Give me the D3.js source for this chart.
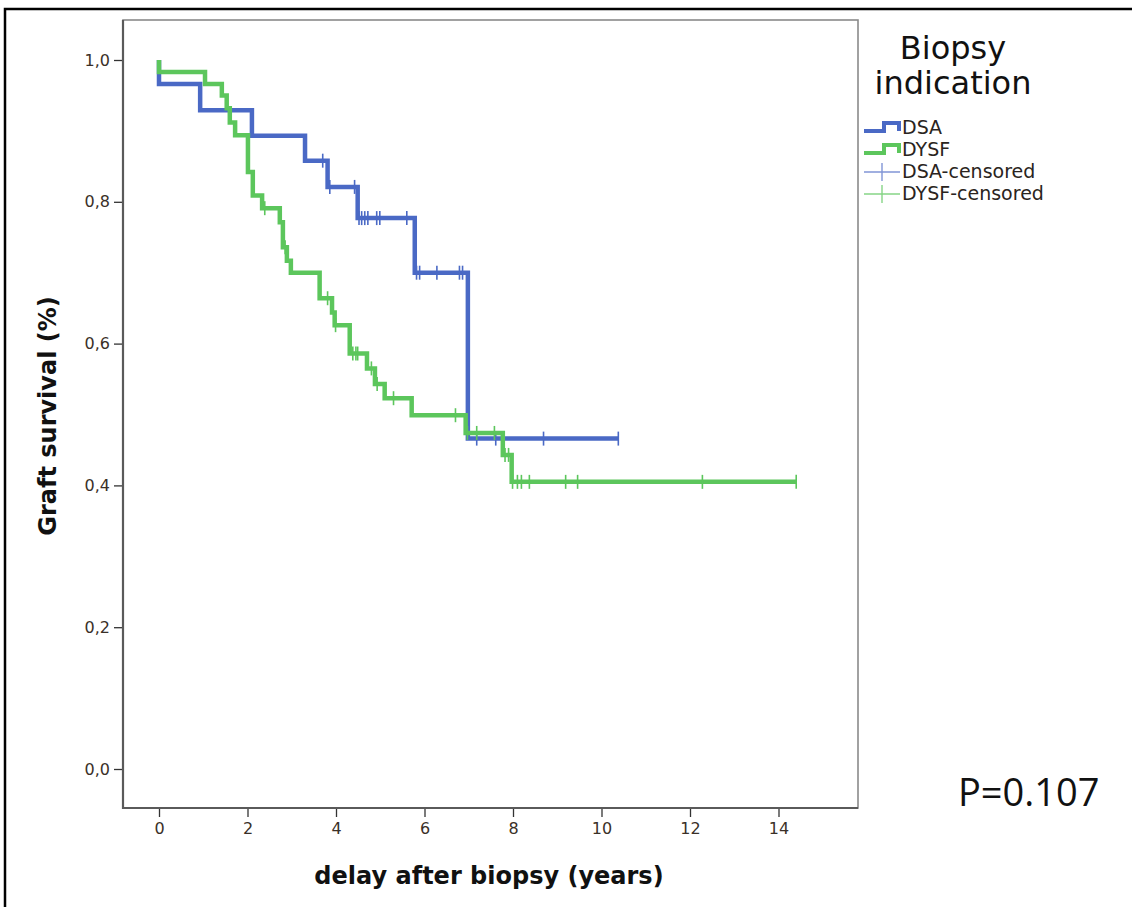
<!DOCTYPE html>
<html>
<head>
<meta charset="utf-8">
<script src="https://cdn.jsdelivr.net/npm/d3@7"></script>
<style>
  html, body { margin: 0; padding: 0; background: #fff; }
  svg { display: block; }
</style>
</head>
<body>
<svg id="chart" width="1132" height="907"></svg>
<script>
// ---------------- data ----------------
const groups = ["DSA", "DYSF"];
const legendLabels = ["DSA", "DYSF", "DSA-censored", "DYSF-censored"];
const xTicks = [0, 2, 4, 6, 8, 10, 12, 14];
const yTicks = [0.0, 0.2, 0.4, 0.6, 0.8, 1.0];

// Kaplan-Meier step points (time in years, survival)
const dsaTimes = [0, 0, 0.93, 2.10, 3.30, 3.81, 4.49, 5.78, 6.98, 10.38];
const dsaSurv  = [1.0, 0.966, 0.929, 0.893, 0.858, 0.821, 0.777, 0.700, 0.466, 0.466];
const dsaCensT = [3.70, 3.86, 4.42, 4.52, 4.58, 4.65, 4.72, 4.92, 4.99, 5.60, 5.82, 5.89, 6.28, 6.79, 6.86, 7.18, 7.61, 8.69, 10.38];

const dysfTimes = [0, 0, 1.04, 1.42, 1.53, 1.60, 1.72, 2.01, 2.12, 2.33, 2.73, 2.80, 2.89, 2.98, 3.63, 3.91, 3.97, 4.31, 4.70, 4.88, 5.10, 5.71, 6.93, 7.77, 7.97, 14.40];
const dysfSurv  = [1.0, 0.983, 0.966, 0.950, 0.932, 0.912, 0.894, 0.842, 0.809, 0.791, 0.771, 0.736, 0.717, 0.700, 0.664, 0.644, 0.626, 0.586, 0.565, 0.543, 0.523, 0.499, 0.474, 0.443, 0.405, 0.405];
const dysfCensT = [2.39, 2.85, 3.81, 3.99, 4.38, 4.45, 4.49, 4.80, 4.93, 5.30, 6.70, 6.97, 7.18, 7.58, 7.82, 7.90, 7.99, 8.10, 8.19, 8.37, 9.19, 9.46, 12.28, 14.40];

const pValueText = "P=0.107";
const legendTitle = ["Biopsy", "indication"];
const xLabel = "delay after biopsy (years)";
const yLabel = "Graft survival (%)";

// ---------------- layout ----------------
const colors = { DSA: "#4a69c5", DYSF: "#5cc65c" };
const censColors = { DSA: "#8095d6", DYSF: "#86d486" };
const frame = { left: 123, right: 858, top: 20, bottom: 808 };

const svg = d3.select("#chart");

// outer black border
svg.append("path")
  .attr("d", "M5,907 V9 H1132")
  .attr("fill", "none").attr("stroke", "#000").attr("stroke-width", 2.5);

const x = d3.scaleLinear().domain([0, 14]).range([159, 778.5]);
const y = d3.scaleLinear().domain([0, 1]).range([769, 60]);

// plot frame
svg.append("rect")
  .attr("x", frame.left).attr("y", frame.top)
  .attr("width", frame.right - frame.left).attr("height", frame.bottom - frame.top)
  .attr("fill", "none").attr("stroke", "#8a8a8a").attr("stroke-width", 1.6);

// axes
const fmtComma = d => d3.format(".1f")(d).replace(".", ",");
const yAxis = svg.append("g")
  .attr("transform", `translate(${frame.left},0)`)
  .call(d3.axisLeft(y).tickValues(yTicks).tickFormat(fmtComma).tickSize(9).tickPadding(4));
const xAxis = svg.append("g")
  .attr("transform", `translate(0,${frame.bottom})`)
  .call(d3.axisBottom(x).tickValues(xTicks).tickFormat(d3.format("d")).tickSize(9).tickPadding(6));

[yAxis, xAxis].forEach(g => {
  g.select(".domain").remove();
  g.selectAll(".tick line").attr("stroke", "#333").attr("stroke-width", 1.3);
  g.selectAll(".tick text")
    .attr("fill", "#3a3028")
    .style("font-family", "'DejaVu Sans', sans-serif")
    .style("font-size", "16px");
});
// darker left/bottom axis lines
svg.append("line").attr("x1", frame.left).attr("x2", frame.left)
  .attr("y1", frame.top).attr("y2", frame.bottom + 1)
  .attr("stroke", "#5a5a5a").attr("stroke-width", 2.2);
svg.append("line").attr("x1", frame.left - 1).attr("x2", frame.right)
  .attr("y1", frame.bottom).attr("y2", frame.bottom)
  .attr("stroke", "#5a5a5a").attr("stroke-width", 2.2);

// axis titles
svg.append("text")
  .attr("x", 489).attr("y", 884)
  .attr("text-anchor", "middle")
  .style("font-family", "'DejaVu Sans', sans-serif")
  .style("font-weight", "bold").style("font-size", "24px")
  .attr("fill", "#111")
  .text(xLabel);
svg.append("text")
  .attr("transform", "translate(56,416) rotate(-90)")
  .attr("text-anchor", "middle")
  .style("font-family", "'DejaVu Sans', sans-serif")
  .style("font-weight", "bold").style("font-size", "24px")
  .attr("fill", "#111")
  .text(yLabel);

// KM curves
const line = d3.line().x(d => x(d[0])).y(d => y(d[1])).curve(d3.curveStepAfter);
const series = {
  DSA: { t: dsaTimes, s: dsaSurv, c: dsaCensT },
  DYSF: { t: dysfTimes, s: dysfSurv, c: dysfCensT }
};
function survAt(ser, t) {
  let v = ser.s[0];
  for (let i = 0; i < ser.t.length; i++) { if (ser.t[i] <= t + 1e-9) v = ser.s[i]; }
  return v;
}
["DSA", "DYSF"].forEach(g => {
  const ser = series[g];
  const pts = ser.t.map((t, i) => [t, ser.s[i]]);
  svg.append("path")
    .attr("d", line(pts))
    .attr("fill", "none")
    .attr("stroke", colors[g])
    .attr("stroke-width", 4.5)
    .attr("stroke-linejoin", "miter");
  svg.append("g").selectAll("line")
    .data(ser.c).join("line")
    .attr("x1", d => x(d)).attr("x2", d => x(d))
    .attr("y1", d => y(survAt(ser, d)) - 7)
    .attr("y2", d => y(survAt(ser, d)) + 7)
    .attr("stroke", colors[g]).attr("stroke-width", 1.6);
});

// legend
const lg = svg.append("g");
lg.selectAll("text.title").data(legendTitle).join("text")
  .attr("class", "title")
  .attr("x", 953).attr("y", (d, i) => 59 + i * 35)
  .attr("text-anchor", "middle")
  .style("font-family", "'DejaVu Sans', sans-serif")
  .style("font-size", "32px")
  .attr("fill", "#111")
  .text(d => d);

const rowY = [128, 150, 172, 194];
legendLabels.forEach((lab, i) => {
  const g = i % 2 === 0 ? "DSA" : "DYSF";
  const yy = rowY[i];
  if (i < 2) {
    lg.append("path")
      .attr("d", `M864,${yy + 3} H884 V${yy - 5} H899 V${yy + 3}`)
      .attr("fill", "none").attr("stroke", colors[g]).attr("stroke-width", 4);
  } else {
    lg.append("line").attr("x1", 864).attr("x2", 900).attr("y1", yy).attr("y2", yy)
      .attr("stroke", censColors[g]).attr("stroke-width", 1.4);
    lg.append("line").attr("x1", 882).attr("x2", 882).attr("y1", yy - 9).attr("y2", yy + 9)
      .attr("stroke", censColors[g]).attr("stroke-width", 1.4);
  }
  lg.append("text")
    .attr("x", 902).attr("y", yy + 6)
    .style("font-family", "'DejaVu Sans', sans-serif")
    .style("font-size", "19px")
    .attr("fill", "#2a2420")
    .text(lab);
});

// p-value
svg.append("text")
  .attr("x", 958).attr("y", 806)
  .style("font-family", "'Open Sans', sans-serif")
  .style("font-size", "38px")
  .attr("fill", "#111")
  .text(pValueText);
</script>
</body>
</html>
